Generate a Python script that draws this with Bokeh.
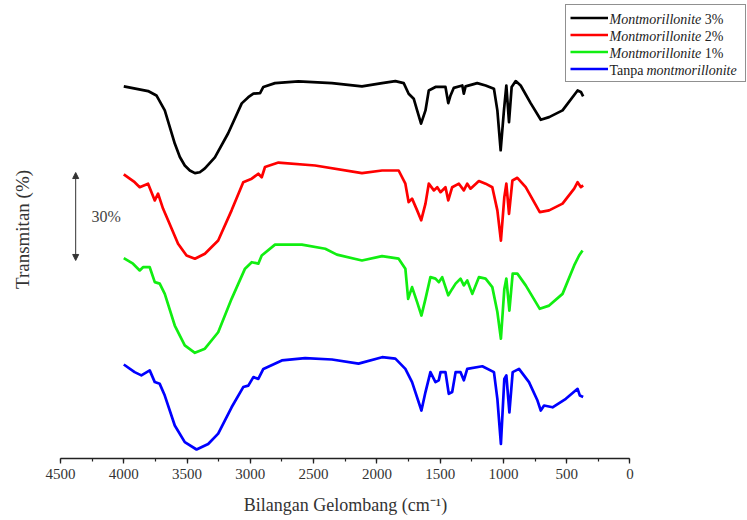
from bokeh.plotting import figure
from bokeh.models import (Range1d, LinearAxis, SingleIntervalTicker, FixedTicker,
                          Legend, LegendItem, Label, Arrow, NormalHead)
from bokeh.embed import file_html
from bokeh.resources import INLINE

# ---------------- data ----------------
wn_3 = [4000, 3808, 3742, 3676, 3597, 3557, 3518, 3478, 3438, 3399, 3359, 3280, 3175,
        3068, 3016, 2976, 2923, 2897, 2805, 2620, 2355, 2118, 1959,
        1854, 1788, 1749, 1709, 1682, 1651, 1616, 1590, 1537, 1458,
        1436, 1418, 1392, 1325, 1313, 1299, 1207, 1141, 1075, 1048,
        1022, 996, 977, 956, 935, 903, 864, 784, 705, 639,
        533, 414, 388, 370]
t_3 = [129.7, 128.1, 126.6, 121.5, 110.2, 105.6, 102.7, 101.0, 100.1, 100.4, 101.7, 105.5, 113.7,
       123.9, 126.0, 127.2, 127.4, 129.5, 130.8, 131.4, 130.8, 129.7, 130.8,
       131.5, 130.8, 127.2, 125.5, 121.5, 117.0, 121.5, 128.3, 129.5, 129.5,
       124.0, 126.6, 129.2, 130.0, 127.2, 129.7, 130.8, 130.0, 128.9, 121.5,
       107.9, 121.5, 130.0, 117.5, 129.5, 131.5, 130.0, 123.9, 118.3, 119.2,
       121.5, 128.3, 127.8, 126.3]

wn_2 = [4000, 3914, 3874, 3808, 3755, 3729, 3690, 3650, 3571, 3504,
        3438, 3359, 3254, 3148, 3056, 2989, 2937, 2910, 2884, 2778,
        2488, 2118, 1959, 1828, 1775, 1749, 1722, 1682, 1650, 1616,
        1590, 1550, 1523, 1497, 1458, 1436, 1405, 1352, 1313, 1286,
        1260, 1194, 1141, 1088, 1048, 1020, 993, 977, 956, 929,
        890, 824, 713, 639, 533, 441, 414, 388, 370]
t_2 = [99.7, 97.0, 95.3, 96.5, 90.8, 93.1, 88.0, 84.0, 76.0, 72.0,
       70.9, 72.6, 77.1, 87.4, 97.0, 98.2, 99.9, 98.7, 102.2, 103.7,
       102.7, 100.1, 101.0, 101.0, 96.5, 90.2, 91.4, 87.4, 84.0, 89.7,
       96.5, 94.2, 95.3, 93.6, 95.3, 90.8, 95.3, 96.5, 94.2, 96.5,
       94.8, 97.4, 96.5, 95.3, 87.4, 77.1, 91.9, 96.5, 86.2, 97.6,
       98.5, 95.3, 86.8, 87.4, 89.7, 94.8, 97.0, 95.3, 95.9]

wn_1 = [4000, 3927, 3874, 3848, 3795, 3755, 3716, 3676, 3597, 3518,
        3438, 3359, 3254, 3148, 3042, 2989, 2937, 2910, 2805, 2593,
        2408, 2316, 2118, 1959, 1828, 1775, 1753, 1722, 1682, 1648,
        1616, 1577, 1537, 1511, 1484, 1436, 1405, 1378, 1339, 1313,
        1286, 1246, 1194, 1141, 1088, 1048, 1020, 993, 977, 953,
        927, 890, 824, 713, 639, 533, 441, 402, 375]
t_1 = [71.1, 69.2, 66.9, 68.0, 68.0, 62.9, 62.4, 58.9, 48.1, 41.3,
       38.8, 40.2, 45.8, 57.2, 67.5, 69.7, 69.2, 72.0, 75.7, 75.7,
       74.3, 72.3, 70.3, 71.8, 70.9, 67.5, 57.2, 61.2, 56.1, 51.5,
       57.2, 64.6, 64.1, 62.9, 64.6, 58.4, 60.6, 62.4, 64.1, 61.8,
       63.5, 58.9, 64.6, 64.1, 61.2, 52.7, 43.6, 60.6, 64.1, 53.2,
       65.8, 65.8, 61.8, 53.8, 54.9, 58.9, 68.6, 72.0, 73.7]

wn_0 = [4000, 3914, 3861, 3795, 3755, 3716, 3676, 3597, 3518, 3425,
        3333, 3254, 3148, 3056, 3016, 2976, 2937, 2897, 2751, 2567,
        2355, 2145, 1959, 1854, 1775, 1722, 1648, 1616, 1577, 1537,
        1511, 1497, 1458, 1432, 1405, 1378, 1339, 1313, 1286, 1167,
        1075, 1048, 1020, 993, 977, 953, 927, 877, 798, 731,
        705, 679, 612, 507, 414, 396, 370]
t_0 = [34.8, 32.2, 31.1, 32.8, 28.8, 28.2, 24.2, 14.0, 8.3, 5.8,
       7.7, 11.2, 20.2, 27.1, 27.6, 30.5, 29.9, 33.3, 36.2, 37.0,
       36.5, 35.1, 37.3, 36.8, 33.3, 28.8, 19.1, 25.4, 32.2, 28.8,
       29.4, 32.2, 32.2, 24.8, 25.4, 32.2, 32.2, 29.4, 33.3, 34.2,
       32.2, 23.1, 7.7, 29.9, 31.1, 18.5, 32.2, 33.3, 28.8, 22.5,
       19.1, 20.8, 20.2, 23.1, 26.5, 24.2, 23.7]

# legend texts: list of (text, style) parts
legend_parts = [
    [("Montmorillonite", "italic"), ("3%", "normal")],
    [("Montmorillonite", "italic"), ("2%", "normal")],
    [("Montmorillonite", "italic"), ("1%", "normal")],
    [("Tanpa", "normal"), ("montmorillonite", "italic")],
]
series = [(wn_3, t_3, "#000000"), (wn_2, t_2, "#ff0000"),
          (wn_1, t_1, "#11ee11"), (wn_0, t_0, "#0000ff")]

x_min, x_max = 0, 4500
x_ticks_interval = 500
x_label = "Bilangan Gelombang (cm\u207b\u00b9)"
y_label = "Transmitan (%)"
scale_pct = 30
scale_base = 70.3

FONT = "Liberation Serif"
TXT = "#333333"

# ---------------- figure ----------------
p = figure(width=747, height=520, output_backend="svg", toolbar_location=None,
           x_range=Range1d(4500, -928.5), y_range=Range1d(2.73, 159.0),
           x_axis_type=None, y_axis_type=None,
           min_border_left=60, min_border_right=0, min_border_top=0,
           min_border_bottom=62)
p.outline_line_color = None
p.background_fill_color = "white"
p.border_fill_color = "white"

renderers = []
for wn, t, c in series:
    r = p.line(wn, t, line_color=c, line_width=2.7, line_join="round")
    renderers.append(r)

# the frame runs to the right edge (room for the legend); the axis is bounded to 0..4500,
# so the title is padded with trailing no-break spaces to centre it under the drawn axis
xaxis = LinearAxis(ticker=SingleIntervalTicker(interval=x_ticks_interval, num_minor_ticks=2),
                   bounds=(x_min, x_max), axis_label=x_label + "\u00a0" * 26)
xaxis.axis_line_color = "#222222"
xaxis.axis_line_width = 1.3
xaxis.major_tick_line_color = "#222222"
xaxis.major_tick_line_width = 1.3
xaxis.minor_tick_line_color = "#222222"
xaxis.minor_tick_line_width = 1.2
xaxis.major_tick_in = 0
xaxis.major_tick_out = 5
xaxis.minor_tick_in = 0
xaxis.minor_tick_out = 3
xaxis.major_label_text_font = FONT
xaxis.major_label_text_font_size = "15px"
xaxis.major_label_text_color = TXT
xaxis.major_label_standoff = 5
xaxis.axis_label_text_font = FONT
xaxis.axis_label_text_font_size = "18px"
xaxis.axis_label_text_font_style = "normal"
xaxis.axis_label_text_color = TXT
xaxis.axis_label_standoff = 13
p.add_layout(xaxis, "below")

yaxis = LinearAxis(ticker=FixedTicker(ticks=[]), axis_label=y_label)
yaxis.axis_line_color = None
yaxis.major_tick_line_color = None
yaxis.minor_tick_line_color = None
yaxis.major_tick_out = 0
yaxis.major_label_standoff = 0
yaxis.major_label_text_font_size = "0px"
yaxis.axis_label_text_font = FONT
yaxis.axis_label_text_font_size = "19px"
yaxis.axis_label_text_font_style = "normal"
yaxis.axis_label_text_color = TXT
yaxis.axis_label_standoff = 28
p.add_layout(yaxis, "left")

# scale bar
p.add_layout(Arrow(start=NormalHead(size=6, fill_color="#333333", line_color="#333333"),
                   end=NormalHead(size=6, fill_color="#333333", line_color="#333333"),
                   x_start=4380, y_start=scale_base, x_end=4380, y_end=scale_base + scale_pct,
                   line_color="#333333", line_width=1))
p.add_layout(Label(x=4255, y=scale_base + scale_pct / 2, text=f"{scale_pct}%",
                   text_font=FONT, text_font_size="16px", text_color="#444444",
                   text_baseline="middle", text_align="left"))

# legend (glyphs) + text parts
items = [LegendItem(label=" ", renderers=[r]) for r in renderers]
legend = Legend(items=items, location=(505, 376), padding=4, spacing=0, margin=0,
                glyph_width=38, glyph_height=17, label_height=17, label_width=131,
                label_standoff=2, label_text_font_size="8px",
                border_line_color="#222222", border_line_width=1,
                background_fill_color="white", background_fill_alpha=0.0)
p.add_layout(legend)

part_widths = {"Montmorillonite": 95.3, "Tanpa": 37.0}
row_y = [439.5, 422.5, 405.5, 388.5]
for parts, yy in zip(legend_parts, row_y):
    xx = 549
    for txt, style in parts:
        p.add_layout(Label(x=xx, y=yy, x_units="screen", y_units="screen", text=txt,
                           text_font=FONT, text_font_size="14px", text_font_style=style,
                           text_color="#222222", text_baseline="middle", text_align="left",
                           level="overlay"))
        xx += part_widths.get(txt, 0)

open("out.html", "w").write(file_html(p, INLINE))
